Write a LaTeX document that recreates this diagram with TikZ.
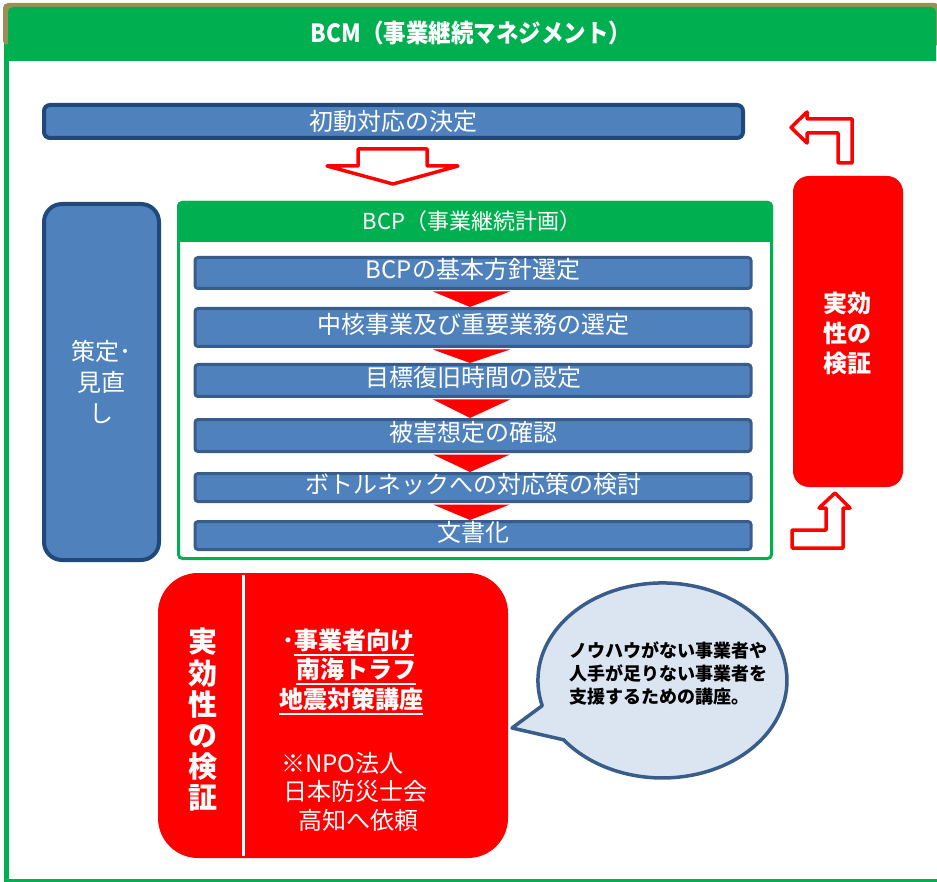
\documentclass[tikz,border=0pt]{standalone}
\usepackage{fontspec}
\setmainfont{Noto Sans CJK JP}
\usetikzlibrary{calc}
\definecolor{hdrgreen}{HTML}{00B050}
\definecolor{oliveline}{HTML}{9C8E55}
\definecolor{boxblue}{HTML}{4F81BD}
\definecolor{darkblue}{HTML}{1F497D}
\definecolor{midblue}{HTML}{385D8A}
\definecolor{bubblefill}{HTML}{DBE5F1}
\definecolor{myred}{HTML}{FF0000}
\newcommand\fs[2]{\fontsize{#1}{#2}\selectfont}
\newsavebox\myulbox
\newcommand\myul[1]{\sbox\myulbox{#1}\smash{\rlap{\rule[-6.5pt]{\wd\myulbox}{2pt}}}\usebox\myulbox}
\begin{document}
\begin{tikzpicture}[x=1pt,y=-1pt,
  bigbox/.style={draw=darkblue, fill=boxblue, line width=4pt, inner sep=0pt},
  stepbox/.style={draw=midblue, fill=boxblue, line width=3pt, rounded corners=3pt,
    minimum width=556pt, inner sep=0pt, text=white, font=\fs{24}{28},
    text height=17pt, text depth=5pt},
  flowtri/.style={fill=myred},
  hollow/.style={draw=myred, fill=white, line width=3.5pt, line join=round},
  redbox/.style={fill=myred, inner sep=0pt},
  wtext/.style={text=white, inner sep=0pt, align=center},
]
\useasboundingbox (0,0) rectangle (937,882);
% outer frame
\fill[oliveline, rounded corners=5pt] (3,3) rectangle (940,46);
\fill[hdrgreen] (8,61) {[rounded corners=5pt] -- (8,7) -- (936,7)} -- (936,61) -- cycle;
\draw[hdrgreen, line width=5pt] (6.5,44) -- (6.5,881);
\draw[hdrgreen, line width=3pt] (4,880) -- (940,880);
\node[wtext, font=\bfseries\fs{25}{30}] (bcm) at (471,33) {\scalebox{0.9}[1]{BCM（事業継続マネジメント）}};

% initial decision
\node[bigbox, rounded corners=6pt, minimum width=699pt, minimum height=33pt,
      text=white, font=\fs{24}{28}] (init) at (393.5,121.5) {初動対応の決定};
\draw[hollow] (358,149) -- (427,149) -- (427,166) -- (458,166) -- (393,184) -- (327,166) -- (358,166) -- cycle;

% review box
\node[bigbox, rounded corners=18pt, minimum width=115pt, minimum height=356pt] (review) at (101.5,382) {};
\node[wtext, font=\fs{24}{31}] (reviewtxt) at (review.center) {策定･\\見直\\し};

% BCP frame
\fill[hdrgreen] (177,242) {[rounded corners=5pt] -- (177,201) -- (773,201)} -- (773,242) -- cycle;
\node[draw=hdrgreen, line width=3pt, rounded corners=4pt, minimum width=593pt,
      minimum height=356pt, inner sep=0pt] (bcp) at (475,380.5) {};
\node[wtext, font=\fs{22}{26}] (bcptitle) at (472,221) {BCP（事業継続計画）};

% steps
\node[stepbox, minimum height=31pt] (b1) at (473,273) {BCPの基本方針選定};
\node[stepbox, minimum height=38pt] (b2) at (473,327.5) {中核事業及び重要業務の選定};
\node[stepbox, minimum height=32pt] (b3) at (473,380.5) {目標復旧時間の設定};
\node[stepbox, minimum height=32pt] (b4) at (473,435.5) {被害想定の確認};
\node[stepbox, minimum height=28pt] (b5) at (473,487.5) {ボトルネックへの対応策の検討};
\node[stepbox, minimum height=28pt] (b6) at (473,535.5) {文書化};
\foreach \u/\l in {b1/b2,b2/b3,b3/b4,b4/b5,b5/b6}{
  \fill[flowtri] ($(\u.south)+(-40,1.5)$) -- ($(\u.south)+(37,1.5)$) -- ($(\l.north)+(-3,0)$) -- cycle;
}

% right check box
\node[redbox, rounded corners=16pt, minimum width=110pt, minimum height=311pt] (check) at (848,331.5) {};
\node[wtext, font=\bfseries\fs{24}{30}] (checktxt) at (847,333) {実効\\性の\\検証};
\draw[hollow] (852,163) -- (852,119) -- (807,119) -- (807,112) -- (791,127.5) -- (807,143) -- (807,133) -- (838,133) -- (838,163) -- cycle;
\draw[hollow] (843,548) -- (843,508) -- (850,508) -- (835,493) -- (819,508) -- (826,508) -- (826,530) -- (792,530) -- (792,548) -- cycle;

% bottom evaluation box
\node[redbox, rounded corners=40pt, minimum width=350pt, minimum height=285pt] (evalbox) at (333,715.5) {};
\draw[white, line width=3pt] (243,575) -- (243,856);
\node[wtext, font=\bfseries\fs{29}{31.2}] (evaltxt) at (203,720) {実\\効\\性\\の\\検\\証};
\node[wtext, anchor=west, font=\bfseries\fs{24}{28}] (c1) at (282,640) {･\myul{事業者向け}};
\node[wtext, anchor=west, font=\bfseries\fs{24}{28}] (c2) at (296,669) {\myul{南海トラフ}};
\node[wtext, anchor=west, font=\bfseries\fs{24}{28}] (c3) at (279,699) {\myul{地震対策講座}};
\node[wtext, anchor=west, font=\fs{24}{28}] (d1) at (281,763) {※NPO法人};
\node[wtext, anchor=west, font=\fs{24}{28}] (d2) at (283,791) {日本防災士会};
\node[wtext, anchor=west, font=\fs{24}{28}] (d3) at (298,820) {高知へ依頼};

% speech bubble
\draw[draw=midblue, fill=bubblefill, line width=3.5pt, line join=round]
  (542.2,705.7) arc[start angle=165, end angle=502.5, x radius=124.5, y radius=97.5]
  -- (512,728) -- cycle;
\node[anchor=west, align=left, inner sep=0pt, font=\bfseries\fs{18}{23}] (bubtxt) at (569,673)
  {ノウハウがない事業者や\\人手が足りない事業者を\\支援するための講座。};
\end{tikzpicture}
\end{document}
